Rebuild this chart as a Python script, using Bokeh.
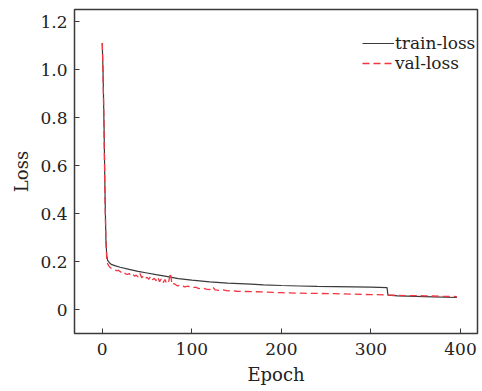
from bokeh.plotting import figure
from bokeh.models import FixedTicker, Range1d, Legend, LegendItem
from bokeh.embed import file_html
from bokeh.resources import INLINE

train_epoch = [0, 1, 2, 3, 4, 5, 6, 8, 10, 14, 20, 30, 40, 50, 60, 70, 76, 85, 100,
               120, 140, 166, 180, 200, 220, 240, 260, 280, 300, 318, 319, 330, 350, 370, 396]
train_loss = [1.11, 0.97, 0.76, 0.50, 0.30, 0.225, 0.205, 0.195, 0.188, 0.183, 0.176,
              0.167, 0.159, 0.152, 0.145, 0.139, 0.135, 0.129, 0.122, 0.115, 0.11,
              0.106, 0.103, 0.100, 0.098, 0.096, 0.095, 0.094, 0.093, 0.091, 0.060,
              0.057, 0.055, 0.053, 0.050]

val_epoch = [0, 1, 2, 3, 4, 5, 6, 8, 10, 12, 14, 16, 18, 20, 22, 24, 26, 28, 30, 32, 34,
             36, 38, 40, 42, 44, 46, 48, 50, 52, 54, 56, 58, 60, 62, 64, 66, 68, 70, 72,
             74, 76, 78, 80, 84, 88, 92, 96, 100, 104, 108, 112, 116, 120, 123, 126, 130,
             135, 140, 145, 150, 160, 170, 180, 190, 200, 220, 240, 260, 280, 300, 318,
             320, 340, 360, 380, 396]
val_loss = [1.11, 0.96, 0.74, 0.48, 0.29, 0.21, 0.19, 0.178, 0.172, 0.168, 0.165, 0.162,
            0.163, 0.158, 0.152, 0.156, 0.148, 0.146, 0.150, 0.141, 0.147, 0.139, 0.143,
            0.136, 0.152, 0.132, 0.140, 0.130, 0.134, 0.126, 0.138, 0.124, 0.130, 0.120,
            0.135, 0.116, 0.128, 0.112, 0.125, 0.108, 0.112, 0.152, 0.104, 0.108, 0.098,
            0.102, 0.094, 0.097, 0.090, 0.093, 0.087, 0.090, 0.085, 0.083, 0.095, 0.082,
            0.080, 0.082, 0.078, 0.079, 0.076, 0.075, 0.074, 0.073, 0.071, 0.070, 0.068,
            0.067, 0.066, 0.064, 0.062, 0.061, 0.060, 0.058, 0.057, 0.055, 0.054]

x_ticks = [0, 100, 200, 300, 400]
y_ticks = [0, 0.2, 0.4, 0.6, 0.8, 1.0, 1.2]
y_tick_labels = ["0", "0.2", "0.4", "0.6", "0.8", "1.0", "1.2"]

FONT = "DejaVu Serif"
DARK = "#3a3a3a"

p = figure(frame_width=403, frame_height=324, output_backend="svg", toolbar_location=None,
           x_range=Range1d(-31, 419), y_range=Range1d(-0.1, 1.25),
           min_border_left=74, min_border_right=3, min_border_top=9, min_border_bottom=58)
p.grid.visible = False
p.outline_line_color = DARK
p.outline_line_width = 1.5
p.background_fill_color = "white"
p.border_fill_color = "white"

r1 = p.line(train_epoch, train_loss, line_color=DARK, line_width=1.2)
r2 = p.line(val_epoch, val_loss, line_color="#f2353f", line_width=1.3, line_dash="7 4")

for ax in (p.xaxis[0], p.yaxis[0]):
    ax.axis_line_color = None
    ax.major_tick_in = 5
    ax.major_tick_out = 0
    ax.minor_tick_line_color = None
    ax.major_tick_line_color = DARK
    ax.major_label_text_font = FONT
    ax.major_label_text_font_size = "17px"
    ax.major_label_text_color = "#222222"
    ax.axis_label_text_font = FONT
    ax.axis_label_text_font_size = "18px"
    ax.axis_label_text_font_style = "normal"
    ax.axis_label_text_color = "#222222"

p.xaxis[0].ticker = FixedTicker(ticks=x_ticks)
p.yaxis[0].ticker = FixedTicker(ticks=y_ticks)
p.yaxis[0].major_label_overrides = {t: l for t, l in zip(y_ticks, y_tick_labels)}
p.xaxis[0].axis_label = "Epoch"
p.yaxis[0].axis_label = "Loss"
p.xaxis[0].major_label_standoff = 9
p.yaxis[0].major_label_standoff = 7
p.xaxis[0].axis_label_standoff = 6
p.yaxis[0].axis_label_standoff = 5

legend = Legend(items=[LegendItem(label="train-loss", renderers=[r1]),
                       LegendItem(label="val-loss", renderers=[r2])],
                location=(288, 260), padding=0, margin=0, spacing=0,
                border_line_color=None, background_fill_alpha=0,
                glyph_width=32, glyph_height=20, label_height=20, label_standoff=1,
                label_text_font=FONT, label_text_font_size="17px", label_text_color="#222222")
p.add_layout(legend)

open("out.html", "w").write(file_html(p, INLINE))
